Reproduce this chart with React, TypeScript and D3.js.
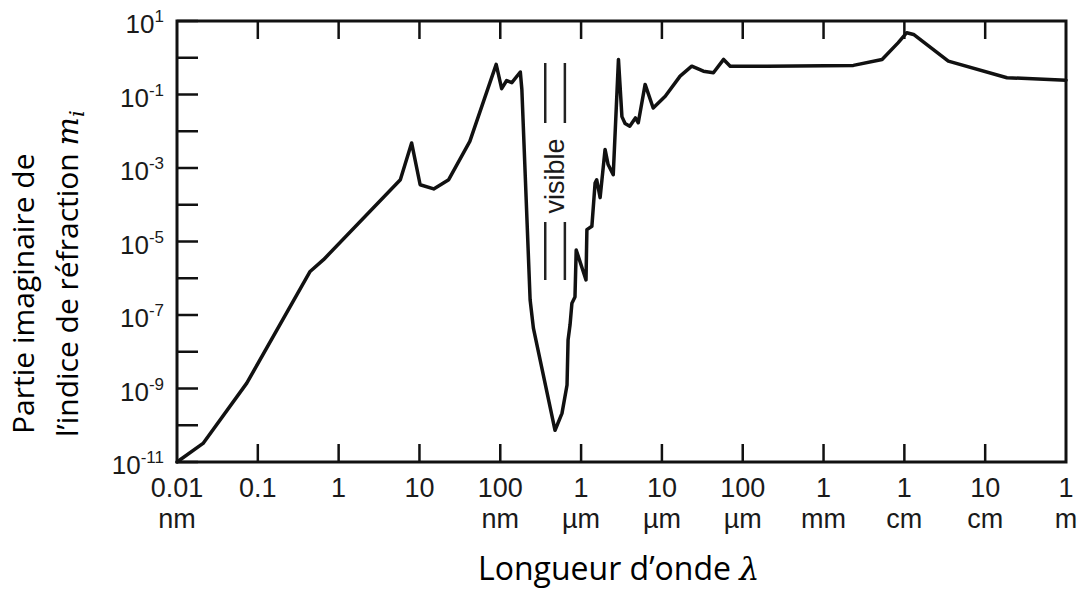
import React from "react";
import * as d3 from "d3";

// ---- data ----
const wavelength = [
  1e-11, 2.1e-11, 7.3e-11, 4.4e-10, 6.5e-10, 5.8e-9, 8.0e-9, 1.02e-8, 1.5e-8, 2.3e-8,
  4.2e-8, 8.9e-8, 1.04e-7, 1.2e-7, 1.39e-7, 1.77e-7, 1.85e-7, 2.34e-7, 2.57e-7, 4.76e-7,
  5.8e-7, 6.7e-7, 6.9e-7, 7.3e-7, 7.7e-7, 8.4e-7, 8.7e-7, 1.15e-6, 1.18e-6, 1.36e-6,
  1.49e-6, 1.56e-6, 1.72e-6, 1.98e-6, 2.16e-6, 2.5e-6, 2.9e-6, 3.2e-6, 3.5e-6, 4.0e-6,
  4.7e-6, 5.1e-6, 6.2e-6, 7.8e-6, 1.1e-5, 1.68e-5, 2.34e-5, 3.26e-5, 4.34e-5, 5.8e-5,
  7.0e-5, 2.0e-4, 2.34e-3, 5.3e-3, 8.4e-3, 1.07e-2, 1.3e-2, 3.5e-2, 0.186, 1.0,
];
const miValues = [
  1e-11, 3.2e-11, 1.4e-9, 1.5e-6, 3.2e-6, 4.8e-4, 4.8e-3, 3.5e-4, 2.7e-4, 4.8e-4,
  5.3e-3, 0.66, 0.144, 0.24, 0.21, 0.41, 0.137, 2.6e-7, 4.4e-8, 7.3e-11,
  2.1e-10, 1.24e-9, 2.1e-8, 5.4e-8, 2.1e-7, 3.1e-7, 5.9e-6, 9.0e-7, 2.1e-5, 2.6e-5,
  3.9e-4, 4.8e-4, 1.56e-4, 3.2e-3, 1.24e-3, 6.6e-4, 0.9, 0.025, 0.0162, 0.0137,
  0.023, 0.017, 0.188, 0.043, 0.09, 0.316, 0.59, 0.43, 0.39, 0.9,
  0.59, 0.59, 0.62, 0.9, 2.58, 4.8, 4.3, 0.81, 0.286, 0.246,
];

const xTickValues = [1e-11, 1e-10, 1e-9, 1e-8, 1e-7, 1e-6, 1e-5, 1e-4, 1e-3, 1e-2, 1e-1, 1];
const xTickNumbers = ["0.01", "0.1", "1", "10", "100", "1", "10", "100", "1", "1", "10", "1"];
const xTickUnits = ["nm", "", "", "", "nm", "µm", "µm", "µm", "mm", "cm", "cm", "m"];

const yTickExponents = [1, 0, -1, -2, -3, -4, -5, -6, -7, -8, -9, -10, -11];
const yLabelExponents = [1, -1, -3, -5, -7, -9, -11];

const visibleBand = [3.6e-7, 6.3e-7];
const visibleLabel = "visible";

const xTitle = "Longueur d’onde ";
const yTitleLine1 = "Partie imaginaire de";
const yTitleLine2 = "l’indice de réfraction ";

// ---- layout ----
const W = 1084;
const H = 589;
const left = 177;
const right = 1066;
const top = 21;
const bottom = 462;

export default function App() {
  const x = d3.scaleLog().domain([1e-11, 1]).range([left, right]);
  const y = d3.scaleLog().domain([1e-11, 10]).range([bottom, top]);

  const pts = wavelength.map((w, i) => [w, miValues[i]] as [number, number]);
  const line = d3
    .line<[number, number]>()
    .x((d) => x(d[0]))
    .y((d) => y(d[1]));

  const tickFont = "'Liberation Sans', Arial, Helvetica, sans-serif";
  const titleFont = "'Open Sans', 'Noto Sans', sans-serif";
  const mathFont = "'DejaVu Serif', 'Liberation Serif', serif";

  const innerX = xTickValues.slice(1, -1);

  return (
    <svg
      width={W}
      height={H}
      viewBox={`0 0 ${W} ${H}`}
      style={{ position: "absolute", left: 0, top: 0, display: "block", background: "#fff" }}
    >
      <rect x={0} y={0} width={W} height={H} fill="#fff" />

      {/* curve */}
      <path
        d={line(pts) || ""}
        fill="none"
        stroke="#111"
        strokeWidth={3.5}
        strokeLinejoin="round"
        strokeLinecap="round"
      />

      {/* frame */}
      <rect
        x={left}
        y={top}
        width={right - left}
        height={bottom - top}
        fill="none"
        stroke="#111"
        strokeWidth={3}
      />

      {/* left ticks */}
      {yTickExponents.map((e) => (
        <line
          key={"yt" + e}
          x1={left}
          x2={left + 21}
          y1={y(Math.pow(10, e))}
          y2={y(Math.pow(10, e))}
          stroke="#111"
          strokeWidth={2.5}
        />
      ))}

      {/* bottom & top ticks */}
      {innerX.map((v, i) => (
        <g key={"xt" + i}>
          <line x1={x(v)} x2={x(v)} y1={bottom} y2={bottom - 18} stroke="#111" strokeWidth={2.5} />
          <line x1={x(v)} x2={x(v)} y1={top} y2={top + 18} stroke="#111" strokeWidth={2.5} />
        </g>
      ))}

      {/* y tick labels */}
      {yLabelExponents.map((e) => (
        <text
          key={"yl" + e}
          x={164}
          y={y(Math.pow(10, e)) + 12}
          textAnchor="end"
          fontFamily={tickFont}
          fontSize={26}
          fill="#1a1a1a"
        >
          10
          <tspan dy={-11} fontSize={17}>
            {String(e)}
          </tspan>
        </text>
      ))}

      {/* x tick labels */}
      {xTickValues.map((v, i) => (
        <g key={"xl" + i}>
          <text
            x={x(v)}
            y={497}
            textAnchor="middle"
            fontFamily={tickFont}
            fontSize={27}
            fill="#1a1a1a"
          >
            {xTickNumbers[i]}
          </text>
          {xTickUnits[i] && (
            <text
              x={x(v)}
              y={528}
              textAnchor="middle"
              fontFamily={tickFont}
              fontSize={27}
              fill="#1a1a1a"
            >
              {xTickUnits[i]}
            </text>
          )}
        </g>
      ))}

      {/* visible markers */}
      {visibleBand.map((v, i) => (
        <g key={"vb" + i}>
          <line x1={x(v)} x2={x(v)} y1={63} y2={123} stroke="#222" strokeWidth={2.5} />
          <line x1={x(v)} x2={x(v)} y1={222} y2={280} stroke="#222" strokeWidth={2.5} />
        </g>
      ))}
      <text
        transform={`translate(${(x(visibleBand[0]) + x(visibleBand[1])) / 2 + 9}, 176) rotate(-90)`}
        textAnchor="middle"
        fontFamily={tickFont}
        fontSize={27}
        fill="#1a1a1a"
      >
        {visibleLabel}
      </text>

      {/* x title */}
      <text x={478} y={580} fontFamily={titleFont} fontSize={32} fill="#000">
        {xTitle}
        <tspan fontFamily={mathFont} fontStyle="italic">
          λ
        </tspan>
      </text>

      {/* y title */}
      <text
        transform="translate(34, 434) rotate(-90)"
        fontFamily={titleFont}
        fontSize={30}
        fill="#000"
      >
        {yTitleLine1}
      </text>
      <text
        transform="translate(78, 437) rotate(-90)"
        fontFamily={titleFont}
        fontSize={30}
        fill="#000"
      >
        {yTitleLine2}
        <tspan fontFamily={mathFont} fontStyle="italic">
          m
        </tspan>
        <tspan fontFamily={mathFont} fontStyle="italic" fontSize={21} dy={6}>
          i
        </tspan>
      </text>
    </svg>
  );
}
